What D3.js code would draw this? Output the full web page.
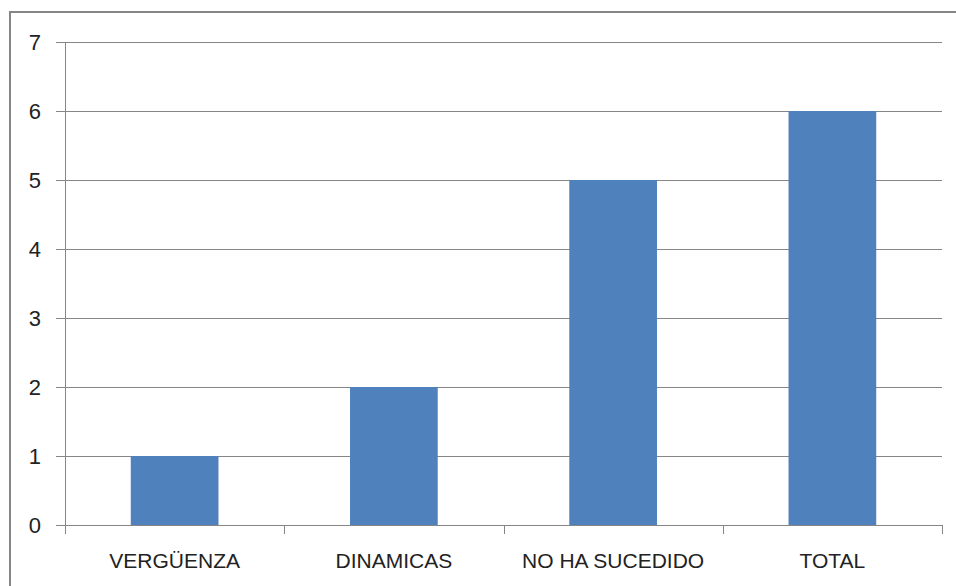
<!DOCTYPE html>
<html>
<head>
<meta charset="utf-8">
<script src="https://cdn.jsdelivr.net/npm/d3@7"></script>
<style>
  body { margin: 0; background: #fff; }
  svg { display: block; font-family: "Liberation Sans", Arial, sans-serif; }
</style>
</head>
<body>
<svg id="chart" width="956" height="586"></svg>
<script>
// data
const categories = ["VERGÜENZA", "DINAMICAS", "NO HA SUCEDIDO", "TOTAL"];
const values = [1, 2, 5, 6];
const yTicks = [0, 1, 2, 3, 4, 5, 6, 7];

const svg = d3.select("#chart");
const mLeft = 65, mRight = 942, mTop = 42, mBottom = 525;

// outer frame, cut off at right and bottom like the source
svg.append("rect")
  .attr("x", 10).attr("y", 12)
  .attr("width", 980).attr("height", 620)
  .attr("fill", "none").attr("stroke", "#868686").attr("stroke-width", 2);

const x = d3.scaleBand().domain(categories).range([mLeft, mRight])
  .paddingInner(0.6).paddingOuter(0.3);
const y = d3.scaleLinear().domain([0, 7]).range([mBottom, mTop]);

// gridlines + left ticks
const yAxis = d3.axisLeft(y).tickValues(yTicks).tickFormat(d3.format("d"))
  .tickSize(9).tickPadding(15);
const gy = svg.append("g").attr("transform", `translate(${mLeft},0)`).call(yAxis);
gy.select(".domain").attr("stroke", "#868686");
gy.selectAll(".tick line").attr("stroke", "#868686");
gy.selectAll(".tick text").attr("font-size", 22).attr("fill", "#222");

svg.append("g").selectAll("line").data(yTicks.filter(d => d > 0)).join("line")
  .attr("x1", mLeft).attr("x2", mRight)
  .attr("y1", d => Math.round(y(d)) + 0.5).attr("y2", d => Math.round(y(d)) + 0.5)
  .attr("stroke", "#868686");

// bars
svg.append("g").selectAll("rect").data(values).join("rect")
  .attr("x", (d, i) => x(categories[i]))
  .attr("width", x.bandwidth())
  .attr("y", d => y(d))
  .attr("height", d => y(0) - y(d))
  .attr("fill", "#4F81BD");

// x axis with ticks at band boundaries
const gx = svg.append("g").attr("transform", `translate(0,${mBottom})`);
gx.append("line").attr("x1", mLeft).attr("x2", mRight).attr("y1", 0.5).attr("y2", 0.5)
  .attr("stroke", "#868686");
const edges = categories.map(c => x(c) - x.step() * x.paddingInner() / 2);
edges.push(mRight);
gx.selectAll(".edge").data(edges).join("line")
  .attr("x1", d => Math.round(d) + 0.5).attr("x2", d => Math.round(d) + 0.5)
  .attr("y1", 0).attr("y2", 9)
  .attr("stroke", "#868686");
gx.selectAll("text").data(categories).join("text")
  .attr("x", d => x(d) + x.bandwidth() / 2)
  .attr("y", 43)
  .attr("text-anchor", "middle")
  .attr("font-size", 21)
  .attr("fill", "#222")
  .text(d => d);
</script>
</body>
</html>
